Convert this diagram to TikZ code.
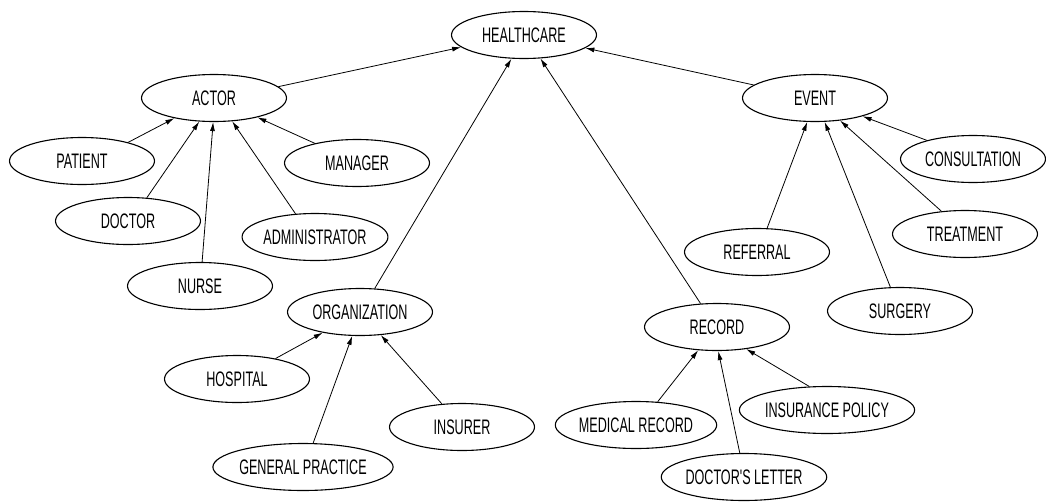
\documentclass[tikz,border=0pt]{standalone}
\usepackage{fontspec}
\newfontfamily\condfont[FakeStretch=0.6]{Liberation Sans}
\usetikzlibrary{shapes.geometric,arrows.meta}
\begin{document}
\begin{tikzpicture}[x=1pt,y=-1pt,
  concept/.style={ellipse, draw, line width=1.1pt, minimum width=145pt, minimum height=47pt, inner sep=0pt,
    font=\condfont\fontsize{21}{22}\selectfont},
  isa/.style={line width=0.8pt, -{Latex[length=9pt,width=5pt]}}]
\useasboundingbox (0,0) rectangle (1046,501);
\node[concept] (hc) at (524,35) {HEALTHCARE};
\node[concept] (actor) at (214,98) {ACTOR};
\node[concept] (event) at (815,98) {EVENT};
\node[concept] (patient) at (82,161) {PATIENT};
\node[concept] (manager) at (357,163) {MANAGER};
\node[concept] (doctor) at (128,221) {DOCTOR};
\node[concept] (admin) at (315,237) {ADMINISTRATOR};
\node[concept] (nurse) at (200,286) {NURSE};
\node[concept] (org) at (360,312) {ORGANIZATION};
\node[concept] (hospital) at (237,379) {HOSPITAL};
\node[concept] (insurer) at (462,427) {INSURER};
\node[concept] (gp) at (303,467) {GENERAL PRACTICE};
\node[concept] (consult) at (973,159) {CONSULTATION};
\node[concept] (treat) at (965,234) {TREATMENT};
\node[concept] (referral) at (757,252) {REFERRAL};
\node[concept] (surgery) at (900,311) {SURGERY};
\node[concept] (record) at (717,327) {RECORD};
\node[concept] (medrec) at (636,425) {MEDICAL RECORD};
\node[concept] (inspol) at (827,410) {INSURANCE POLICY};
\node[concept] (dl) at (744,477) {DOCTOR'S LETTER};

\draw[isa] (actor.10.8) -- (hc.191.8);
\draw[isa] (org.58) -- (hc.242.6);
\draw[isa] (record.125) -- (hc.305);
\draw[isa] (event.168.7) -- (hc.348.3);

\draw[isa] (patient.22.7) -- (actor.207.1);
\draw[isa] (doctor.51) -- (actor.238);
\draw[isa] (nurse.85) -- (actor.268);
\draw[isa] (admin.130) -- (actor.308);
\draw[isa] (manager.155.7) -- (actor.336.5);

\draw[isa] (referral.67) -- (event.252);
\draw[isa] (surgery.112.6) -- (event.292);
\draw[isa] (treat.136) -- (event.318);
\draw[isa] (consult.158.4) -- (event.339);

\draw[isa] (hospital.28) -- (org.209.6);
\draw[isa] (gp.67) -- (org.252);
\draw[isa] (insurer.131) -- (org.312.5);

\draw[isa] (medrec.47.6) -- (record.231);
\draw[isa] (dl.100) -- (record.273);
\draw[isa] (inspol.127.5) -- (record.323.4);
\end{tikzpicture}
\end{document}
